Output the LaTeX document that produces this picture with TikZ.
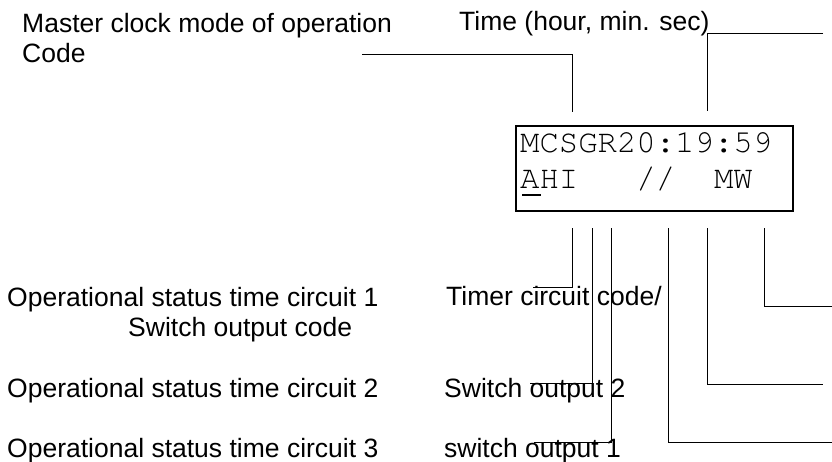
\documentclass[tikz,border=0pt]{standalone}
\usepackage{fontspec}
\setmainfont{Liberation Sans}
\newfontfamily\dispfont{texgyrecursor-regular.otf}
\begin{document}
\begin{tikzpicture}[x=1pt,y=-1pt,
  lbl/.style={anchor=base west,inner sep=0pt,font=\fontsize{26.5}{30}\selectfont},
  disp/.style={anchor=base west,inner sep=0pt,font=\dispfont\fontsize{32.3}{36}\selectfont},
  conn/.style={line width=0.9pt,black},
  frame/.style={draw,line width=2.2pt,inner sep=0pt,anchor=north west,minimum width=277pt,minimum height=85pt}]
\useasboundingbox (0,0) rectangle (832,461);
% labels
\node[lbl] (master) at (22,32) {Master clock mode of operation};
\node[lbl] (code) at (22,62) {Code};
\node[lbl] (time) at (459,30) {Time (hour, min. sec)};
\node[lbl] (op1) at (7,306) {Operational status time circuit 1};
\node[lbl] (swcode) at (128,336) {Switch output code};
\node[lbl] (op2) at (7,397) {Operational status time circuit 2};
\node[lbl] (op3) at (7,457) {Operational status time circuit 3};
\node[lbl] (timer) at (446,305) {Timer circuit code/};
\node[lbl] (sw2) at (444,397) {Switch output 2};
\node[lbl] (sw1) at (444,457) {switch output 1};
% display
\node[frame] (box) at (515,125) {};
\node[disp] (row1) at (520,152) {MCSGR20:19:59};
\node[disp] (row2) at (520,188) {AHI~~~//~~MW};
\draw[line width=2pt] (522,195) -- (541,195);
% connector points
\coordinate (cA1) at (362,54);
\coordinate (cA2) at (572,112);
\coordinate (cB1) at (823,33);
\coordinate (cB2) at (707,111);
\coordinate (d1) at (572,228); \coordinate (e1) at (533,287);
\coordinate (d2) at (592,228); \coordinate (e2) at (530,383);
\coordinate (d3) at (611,228); \coordinate (e3) at (534,442);
\coordinate (d4) at (668,228); \coordinate (e4) at (832,442);
\coordinate (d5) at (707,228); \coordinate (e5) at (823,384);
\coordinate (d6) at (764,228); \coordinate (e6) at (832,306);
% connectors
\draw[conn] (cA1) -| (cA2);
\draw[conn] (cB1) -| (cB2);
\draw[conn] (d1) |- (e1);
\draw[conn] (d2) |- (e2);
\draw[conn] (d3) |- (e3);
\draw[conn] (d4) |- (e4);
\draw[conn] (d5) |- (e5);
\draw[conn] (d6) |- (e6);
\end{tikzpicture}
\end{document}
